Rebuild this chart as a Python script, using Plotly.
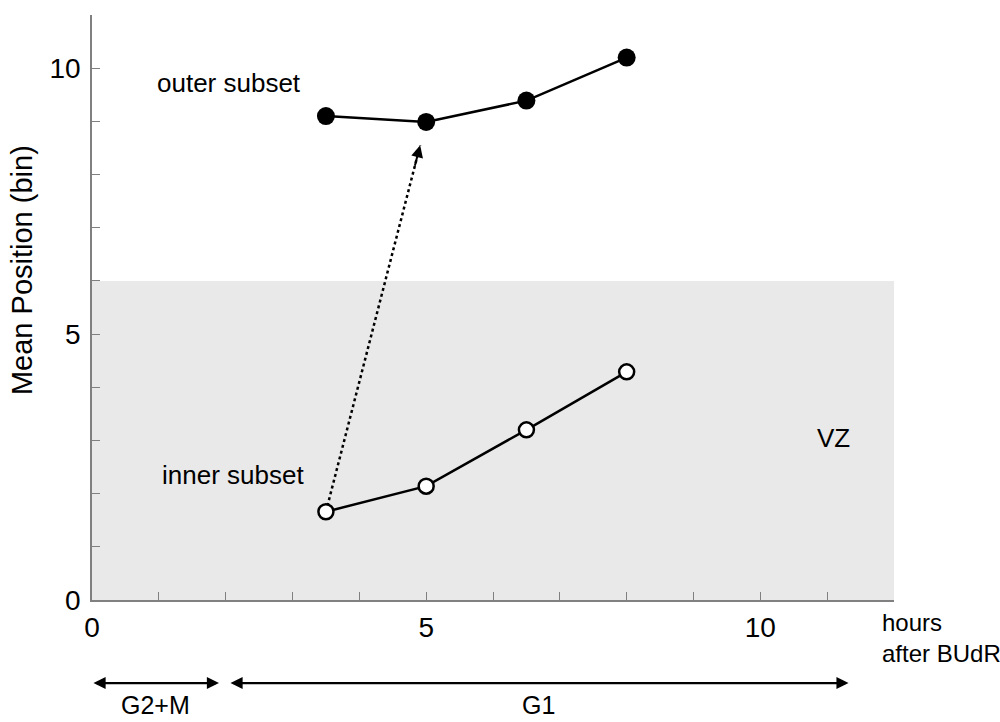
import plotly.graph_objects as go

# Data
hours = [3.5, 5, 6.5, 8]
outer_subset = [9.10, 8.99, 9.39, 10.20]
inner_subset = [1.66, 2.14, 3.20, 4.29]

# dotted migration arrow (start -> head)
arrow_start = (3.5, 1.66)
arrow_head = (4.91, 8.55)

# VZ shaded region
vz_x = (0, 12)
vz_y = (0, 6)

x_ticks = list(range(0, 13))
x_labels = ["0" if v == 0 else "5" if v == 5 else "10" if v == 10 else "" for v in x_ticks]
y_ticks = list(range(0, 12))
y_labels = ["0" if v == 0 else "5" if v == 5 else "10" if v == 10 else "" for v in y_ticks]

# Phase bars below the axis (start, end, label)
phases = [(0.0, 1.9, "G2+M"), (2.05, 11.32, "G1")]

FONT = "Liberation Sans, Arial, sans-serif"
AXIS_COLOR = "#808080"

fig = go.Figure()

fig.add_shape(type="rect", x0=vz_x[0], x1=vz_x[1], y0=vz_y[0], y1=vz_y[1],
              xref="x", yref="y", fillcolor="#e9e9e9", line=dict(width=0), layer="below")

# dotted line
fig.add_trace(go.Scatter(x=[arrow_start[0], arrow_head[0]], y=[arrow_start[1], arrow_head[1]],
                         mode="lines", line=dict(color="black", width=2.5, dash="dot"),
                         hoverinfo="skip", showlegend=False))

fig.add_trace(go.Scatter(x=hours, y=inner_subset, mode="lines+markers",
                         line=dict(color="black", width=2.5),
                         marker=dict(size=15, color="white", line=dict(color="black", width=2.5)),
                         showlegend=False))
fig.add_trace(go.Scatter(x=hours, y=outer_subset, mode="lines+markers",
                         line=dict(color="black", width=2.5),
                         marker=dict(size=18, color="black"),
                         showlegend=False))

# arrowhead of dotted line
tail_x = arrow_head[0] - 0.06 * (arrow_head[0] - arrow_start[0])
tail_y = arrow_head[1] - 0.06 * (arrow_head[1] - arrow_start[1])
fig.add_annotation(x=arrow_head[0], y=arrow_head[1], ax=tail_x, ay=tail_y,
                   xref="x", yref="y", axref="x", ayref="y", text="",
                   showarrow=True, arrowhead=2, arrowsize=1.2, arrowwidth=2, arrowcolor="black")

text_font = dict(family=FONT, size=26, color="black")
fig.add_annotation(x=2.05, y=9.72, text="outer subset", showarrow=False, font=text_font)
fig.add_annotation(x=2.11, y=2.35, text="inner subset", showarrow=False, font=text_font)
fig.add_annotation(x=11.09, y=3.04, text="VZ", showarrow=False, font=text_font)

fig.add_annotation(x=0.9825, y=-0.012, xref="paper", yref="paper", text="hours<br>after BUdR",
                   showarrow=False, xanchor="left", yanchor="top", align="left",
                   font=dict(family=FONT, size=24, color="black"))

fig.add_annotation(xref="paper", yref="paper", x=-0.0873, y=0.564, text="Mean Position (bin)",
                   textangle=-90, showarrow=False, xanchor="center", yanchor="middle",
                   font=dict(family=FONT, size=29, color="black"))

for start, end, label in phases:
    fig.add_annotation(x=end, y=-0.142, ax=start, ay=0, xref="x", yref="paper", axref="x", ayref="pixel",
                       text="", showarrow=True, arrowhead=2, arrowside="end+start",
                       arrowsize=1.1, arrowwidth=2.2, arrowcolor="black")
    fig.add_annotation(x=(start + end) / 2, y=-0.153, xref="x", yref="paper", text=label,
                       showarrow=False, yanchor="top", borderpad=0,
                       font=dict(family=FONT, size=25, color="black"))

fig.update_layout(
    width=1000, height=722,
    margin=dict(l=92, r=106, t=15, b=122),
    plot_bgcolor="white", paper_bgcolor="white",
    font=dict(family=FONT, size=28, color="black"),
    xaxis=dict(range=[0, 12], tickvals=x_ticks, ticktext=x_labels, ticks="inside", ticklen=8,
               tickcolor=AXIS_COLOR, showline=True, linecolor=AXIS_COLOR, linewidth=1.5,
               showgrid=False, zeroline=False, tickfont=dict(family=FONT, size=28), ticklabelstandoff=2),
    yaxis=dict(range=[0, 11], tickvals=y_ticks, ticktext=y_labels, ticks="inside", ticklen=8,
               tickcolor=AXIS_COLOR, showline=True, linecolor=AXIS_COLOR, linewidth=1.5,
               showgrid=False, zeroline=False, tickfont=dict(family=FONT, size=28), ticklabelstandoff=4),
)

fig.write_html("out.html")
